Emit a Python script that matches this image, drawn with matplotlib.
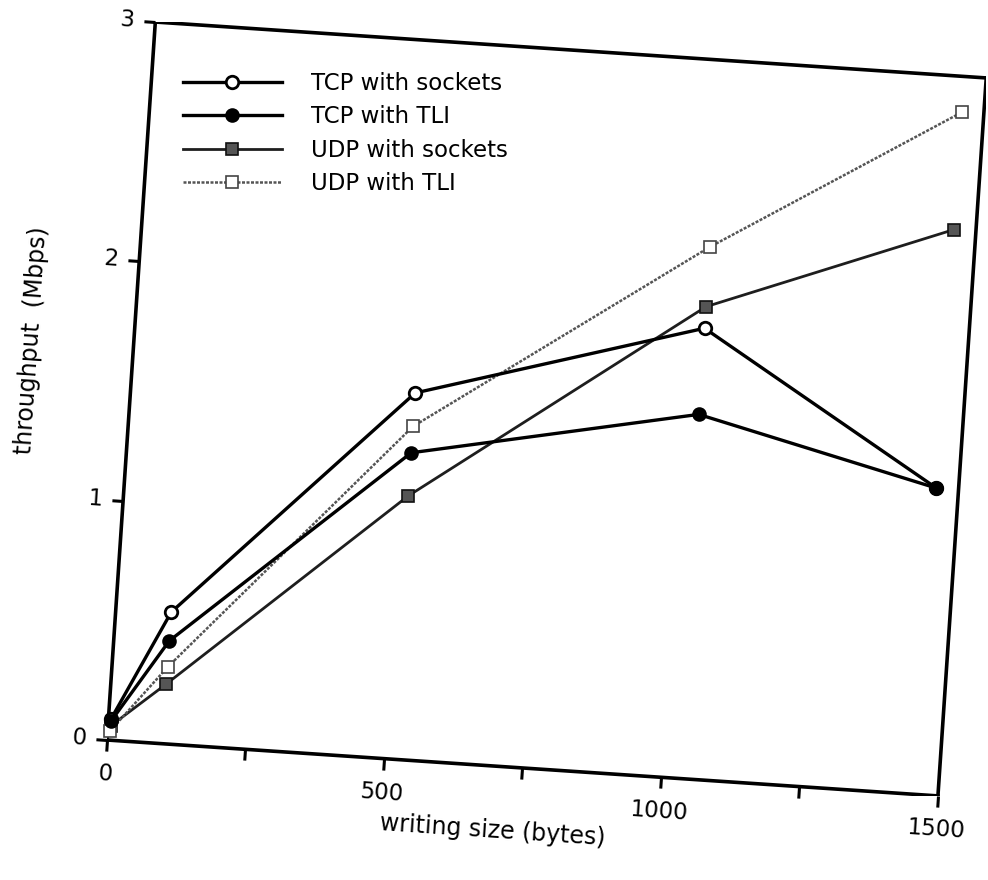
import matplotlib
matplotlib.use("Agg")
import matplotlib.pyplot as plt
import numpy as np
from matplotlib.transforms import Affine2D
import mpl_toolkits.axisartist.floating_axes as floating_axes
from mpl_toolkits.axisartist.grid_finder import FixedLocator, DictFormatter

# ---- data ----
x_bytes = [5, 100, 512, 1024, 1460]
tcp_sockets = [0.09, 0.55, 1.53, 1.88, 1.28]
tcp_tli = [0.08, 0.43, 1.28, 1.52, 1.28]
udp_sockets = [0.06, 0.25, 1.10, 1.97, 2.36]
udp_tli = [0.04, 0.32, 1.39, 2.22, 2.85]
series_labels = ["TCP with sockets", "TCP with TLI", "UDP with sockets", "UDP with TLI"]

x_ticks = [0, 250, 500, 750, 1000, 1250, 1500]
x_tick_labels = {0: "0", 500: "500", 1000: "1000", 1500: "1500"}
y_ticks = [0, 1, 2, 3]
y_tick_labels = {0: "0", 1: "1", 2: "2", 3: "3"}
x_label = "writing size (bytes)"
y_label = "throughput  (Mbps)"

# ---- figure geometry (scan is rotated slightly clockwise) ----
W, H = 988, 880
fig = plt.figure(figsize=(W / 100, H / 100), dpi=100)
plt.rcParams['font.family'] = ['DejaVu Sans']

angle = -3.85
sx = 832.8 / (x_ticks[-1] - x_ticks[0])
sy = 719.6 / (y_ticks[-1] - y_ticks[0])
tr = Affine2D().scale(sx, sy).rotate_deg(angle)

grid_helper = floating_axes.GridHelperCurveLinear(
    tr, extremes=(x_ticks[0], x_ticks[-1], y_ticks[0], y_ticks[-1]),
    grid_locator1=FixedLocator(x_ticks),
    tick_formatter1=DictFormatter(x_tick_labels),
    grid_locator2=FixedLocator(y_ticks),
    tick_formatter2=DictFormatter(y_tick_labels))

corners = tr.transform([[x_ticks[0], y_ticks[0]], [x_ticks[-1], y_ticks[0]],
                        [x_ticks[0], y_ticks[-1]], [x_ticks[-1], y_ticks[-1]]])
xmin, ymin = corners.min(axis=0)
xmax, ymax = corners.max(axis=0)
ox, oy = 107, H - 740
rect = [(ox + xmin) / W, (oy + ymin) / H, (xmax - xmin) / W, (ymax - ymin) / H]

ax = fig.add_axes(rect, axes_class=floating_axes.FloatingAxes, grid_helper=grid_helper)
ax.set_aspect('auto')
aux = ax.get_aux_axes(tr)

h1, = aux.plot(x_bytes, tcp_sockets, color='black', lw=2.4, marker='o', ms=9,
               mfc='white', mec='black', mew=2.0, clip_on=False, zorder=5)
h2, = aux.plot(x_bytes, tcp_tli, color='black', lw=2.4, marker='o', ms=9,
               mfc='black', mec='black', mew=1.5, clip_on=False, zorder=5)
h3, = aux.plot(x_bytes, udp_sockets, color='#1e1e1e', lw=2.0, marker='s', ms=8.5,
               mfc='#555555', mec='#111111', mew=1.2, clip_on=False, zorder=4)
h4, = aux.plot(x_bytes, udp_tli, color='#555555', lw=1.8, ls=(0, (1.2, 0.6)),
               marker='s', ms=8.5, mfc='white', mec='#444444', mew=1.2,
               clip_on=False, zorder=4)

ax.set_xlim(xmin, xmax)
ax.set_ylim(ymin, ymax)

for side in ["left", "right", "top", "bottom"]:
    ax.axis[side].line.set_linewidth(2.6)
for side in ["right", "top"]:
    ax.axis[side].toggle(ticks=False, ticklabels=False, label=False)

b = ax.axis["bottom"]
b.major_ticks.set_tick_out(True)
b.major_ticks.set_ticksize(8)
b.major_ticks.set_markeredgewidth(2.2)
b.major_ticklabels.set_fontsize(16.5)
b.major_ticklabels.set_pad(9)

l = ax.axis["left"]
l.major_ticks.set_tick_out(True)
l.major_ticks.set_ticksize(8)
l.major_ticks.set_markeredgewidth(2.2)
l.major_ticklabels.set_fontsize(16.5)
l.major_ticklabels.set_pad(7)

fig.text(493 / W, 1 - 831 / H, x_label, fontsize=17, rotation=angle,
         ha='center', va='center', rotation_mode='anchor')
fig.text(32 / W, 1 - 340 / H, y_label, fontsize=17, rotation=90 + angle,
         ha='center', va='center', rotation_mode='anchor')

fig.legend([h1, h2, h3, h4], series_labels, loc='upper left',
           bbox_to_anchor=(183 / W, 1 - 72 / H), bbox_transform=fig.transFigure,
           frameon=False, fontsize=16.5, handlelength=4.3, handletextpad=1.3,
           labelspacing=0.45, borderpad=0, borderaxespad=0, numpoints=1)

fig.savefig("out.png", dpi=100, facecolor='white')
